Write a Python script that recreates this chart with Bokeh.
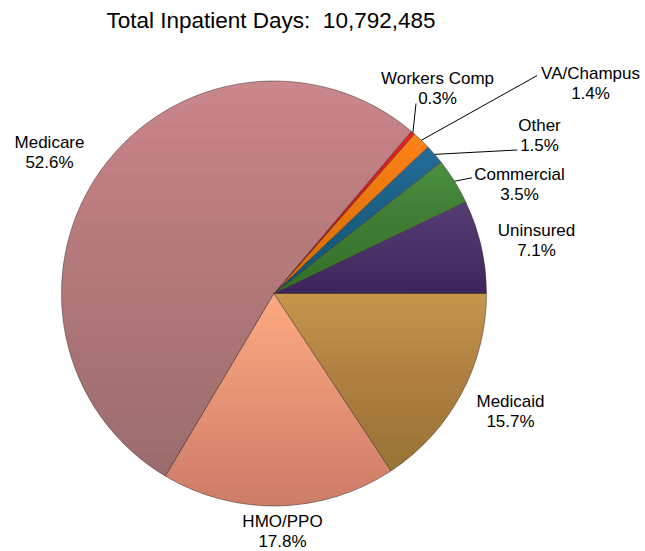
import math
from bokeh.plotting import figure
from bokeh.models import Range1d, ColumnDataSource
from bokeh.core.properties import value
from bokeh.embed import file_html
from bokeh.resources import INLINE

# ---------------- data ----------------
title_text = "Total Inpatient Days:\u00a0 10,792,485"
categories = ["Uninsured", "Commercial", "Other", "VA/Champus",
              "Workers Comp", "Medicare", "HMO/PPO", "Medicaid"]
shares = [7.1, 3.5, 1.5, 1.4, 0.3, 52.6, 17.8, 15.7]
colors = ["#563d74", "#4a9040", "#246b99", "#ff8418",
          "#ee2020", "#ca888c", "#fdaa82", "#c6964c"]

# ---------------- layout ----------------
W, H = 645, 551
LABEL_FS = 17
TITLE_FS = 22.5
SHIFT = 0.38  # empirical baseline correction (fraction of font size)


def sx(X):
    return X


def sy(Y):
    return H - Y


CX, CY, R = sx(273.5), sy(293.0), 212.5
# label anchor (screen px): centre x, baseline of first line
label_pos = {
    "Uninsured": (536, 236),
    "Commercial": (519, 180.5),
    "Other": (539, 131.5),
    "VA/Champus": (590, 79.5),
    "Workers Comp": (437, 84.5),
    "Medicare": (49, 148),
    "HMO/PPO": (282, 527.5),
    "Medicaid": (510, 407.5),
}
LINE_GAP = 20
# leader line outer ends (screen px)
leader_end = {
    "Commercial": (471.5, 177.3),
    "Other": (516.7, 149.5),
    "VA/Champus": (536.7, 75),
    "Workers Comp": (415.5, 103),
}

total = sum(shares)
starts, ends = [], []
acc = 0.0
for v in shares:
    starts.append(2 * math.pi * acc / total)
    acc += v
    ends.append(2 * math.pi * acc / total)

p = figure(width=W, height=H, x_range=Range1d(0, W), y_range=Range1d(0, H),
           output_backend="svg", toolbar_location=None, min_border=0,
           x_axis_location=None, y_axis_location=None)
p.grid.visible = False
p.outline_line_color = None
p.background_fill_color = "white"
p.border_fill_color = "white"

src = ColumnDataSource(dict(start=starts, end=ends, color=colors, name=categories))
p.wedge(x=CX, y=CY, radius=R, radius_units="screen", start_angle="start",
        end_angle="end", fill_color="color", line_color="#4a3a3a",
        line_alpha=0.55, line_width=1, source=src)

# vertical shading per slice (stacked translucent layers, darker to the bottom)
def slice_poly(a0, a1):
    n = max(4, int(math.degrees(a1 - a0)))
    xs, ys = [CX], [CY]
    for i in range(n + 1):
        a = a0 + (a1 - a0) * i / n
        xs.append(CX + R * math.cos(a))
        ys.append(CY + R * math.sin(a))
    return xs, ys


def clip_below(xs, ys, yc):
    ox, oy = [], []
    n = len(xs)
    for i in range(n):
        x1, y1 = xs[i - 1], ys[i - 1]
        x2, y2 = xs[i], ys[i]
        in1, in2 = y1 <= yc, y2 <= yc
        if in2 != in1:
            t = (yc - y1) / (y2 - y1)
            ox.append(x1 + t * (x2 - x1))
            oy.append(yc)
        if in2:
            ox.append(x2)
            oy.append(y2)
    return ox, oy


NL = 24
A_TOT = 0.2
a_layer = 1 - (1 - A_TOT) ** (1.0 / NL)
sh_xs, sh_ys = [], []
for a0, a1 in zip(starts, ends):
    xs, ys = slice_poly(a0, a1)
    ymax, ymin = max(ys), min(ys)
    for k in range(NL):
        yc = ymax - (k + 0.5) / NL * (ymax - ymin)
        cx_, cy_ = clip_below(xs, ys, yc)
        if len(cx_) >= 3:
            sh_xs.append(cx_)
            sh_ys.append(cy_)
p.patches(xs=sh_xs, ys=sh_ys, fill_color="black", fill_alpha=a_layer,
          line_color=None)

# leader lines from the slice edge (mid angle) to the label
lx0, ly0, lx1, ly1 = [], [], [], []
for name, a0, a1 in zip(categories, starts, ends):
    if name in leader_end:
        am = (a0 + a1) / 2
        lx0.append(CX + R * math.cos(am))
        ly0.append(CY + R * math.sin(am))
        ex, ey = leader_end[name]
        lx1.append(sx(ex))
        ly1.append(sy(ey))
p.segment(x0=lx0, y0=ly0, x1=lx1, y1=ly1, line_color="black", line_width=1)

# labels
tx, ty, tt = [], [], []
ls = SHIFT * LABEL_FS
for name, v in zip(categories, shares):
    X, Y = label_pos[name]
    tx += [sx(X), sx(X)]
    ty += [sy(Y - ls), sy(Y + LINE_GAP - ls)]
    tt += [name, f"{v:.1f}%"]
p.text(x=tx, y=ty, text=tt, text_align="center", text_baseline="alphabetic",
       text_font=value("Liberation Sans"), text_font_size=value(f"{LABEL_FS}px"),
       text_color="black")

p.text(x=[sx(106)], y=[sy(28.3 - SHIFT * TITLE_FS)], text=[title_text],
       text_align="left", text_baseline="alphabetic",
       text_font=value("Liberation Sans"),
       text_font_size=value(f"{TITLE_FS}px"), text_color="black")

open("out.html", "w").write(file_html(p, INLINE))
